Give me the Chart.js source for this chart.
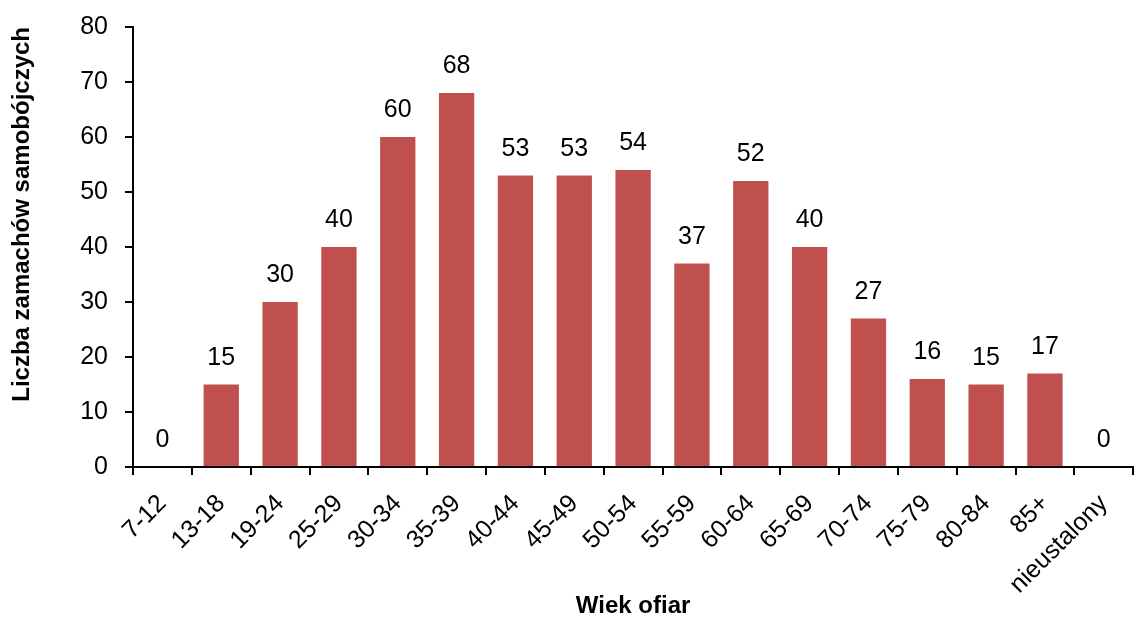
<!DOCTYPE html>
<html lang="pl">
<head>
<meta charset="UTF-8">
<title>Wiek ofiar</title>
<script src="https://cdn.jsdelivr.net/npm/chart.js"></script>
<style>
  body { margin: 0; background: #fff; }
  .wrap { width: 1139px; height: 617px; }
</style>
</head>
<body>
<div class="wrap"><canvas id="chart"></canvas></div>
<script>
const ageGroups = ['7-12', '13-18', '19-24', '25-29', '30-34', '35-39', '40-44', '45-49',
  '50-54', '55-59', '60-64', '65-69', '70-74', '75-79', '80-84', '85+', 'nieustalony'];
const attacks = [0, 15, 30, 40, 60, 68, 53, 53, 54, 37, 52, 40, 27, 16, 15, 17, 0];
const yTicksMax = 80;
const yTicksStep = 10;

const fontFamily = "'Liberation Sans Narrow', 'Arial Narrow', 'Liberation Sans', Arial, sans-serif";
Chart.defaults.font.family = fontFamily;
Chart.defaults.color = '#000';

// numbers above the bars
const valueLabels = {
  id: 'valueLabels',
  afterDatasetsDraw(chart) {
    const ctx = chart.ctx;
    const meta = chart.getDatasetMeta(0);
    ctx.save();
    ctx.font = '25px ' + fontFamily;
    ctx.fillStyle = '#000';
    ctx.textAlign = 'center';
    ctx.textBaseline = 'alphabetic';
    meta.data.forEach((bar, i) => {
      ctx.fillText(attacks[i], bar.x, bar.y - 20);
    });
    ctx.restore();
  }
};

new Chart(document.getElementById('chart'), {
  type: 'bar',
  data: {
    labels: ageGroups,
    datasets: [{
      data: attacks,
      backgroundColor: '#C0504D',
      barPercentage: 0.6,
      categoryPercentage: 1
    }]
  },
  options: {
    responsive: true,
    maintainAspectRatio: false,
    animation: false,
    layout: { padding: 0 },
    plugins: {
      legend: { display: false },
      tooltip: { enabled: false }
    },
    scales: {
      x: {
        grid: { offset: true, drawOnChartArea: false, tickLength: 8, color: '#000', lineWidth: 2 },
        border: { color: '#000', width: 2 },
        ticks: { font: { size: 25 }, maxRotation: 45, minRotation: 45, padding: 14, autoSkip: false },
        title: { display: true, text: 'Wiek ofiar', font: { size: 24, weight: 'bold', lineHeight: 0.9 }, padding: { top: 0, bottom: 0 } },
        afterFit(scale) { scale.height = 150; }
      },
      y: {
        min: 0,
        max: yTicksMax,
        // small lineHeight keeps the top of the plot at the right spot
        ticks: { stepSize: yTicksStep, font: { size: 25, lineHeight: 0.8 }, padding: 17 },
        grid: { drawOnChartArea: false, tickLength: 8, color: '#000', lineWidth: 2 },
        border: { color: '#000', width: 2 },
        title: { display: true, text: 'Liczba zamachów samobójczych', align: 'end', font: { size: 24, weight: 'bold' }, padding: { top: 8, bottom: 0 } },
        afterFit(scale) { scale.width = 133; }
      }
    }
  },
  plugins: [valueLabels]
});
</script>
</body>
</html>
